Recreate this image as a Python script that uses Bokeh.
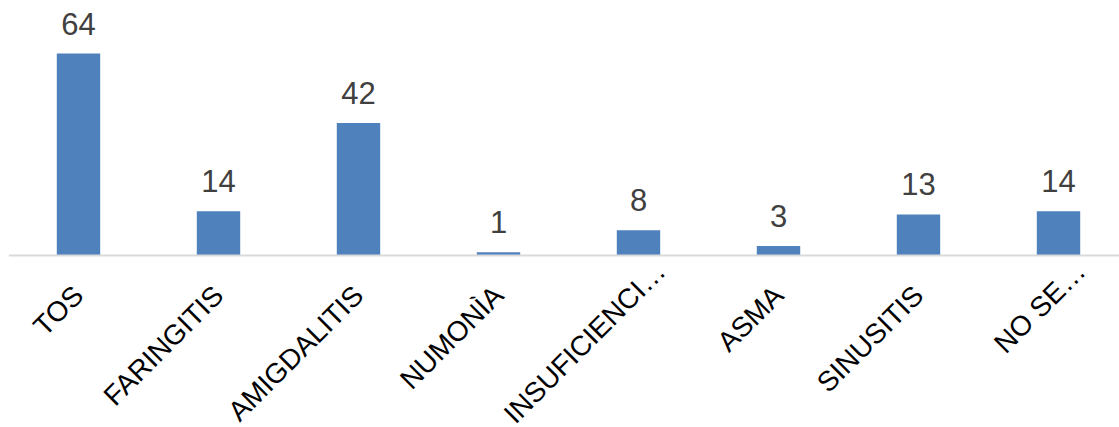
import math
from bokeh.plotting import figure
from bokeh.models import ColumnDataSource, Range1d, Span
from bokeh.core.properties import value
from bokeh.embed import file_html
from bokeh.resources import INLINE

categories = ["TOS", "FARINGITIS", "AMIGDALITIS", "NUMONÌA", "INSUFICIENCI…", "ASMA", "SINUSITIS", "NO SE…"]
counts = [64, 14, 42, 1, 8, 3, 13, 14]

idx = list(range(len(categories)))
# truncated labels (ending with an ellipsis) sit a little further up-right, as in the original
dx = [22 if c.endswith("…") else 0 for c in categories]
dy = [11 if c.endswith("…") else 35 for c in categories]
src = ColumnDataSource(dict(
    x=idx,
    top=counts,
    base=[0] * len(counts),
    cat=categories,
    lab=[str(v) for v in counts],
    dx=dx,
    dy=dy,
))

p = figure(width=1119, height=427, output_backend="svg", toolbar_location=None,
           x_range=Range1d(-0.5, -0.5 + 1111 / 140), y_range=Range1d(-54.5, 80.8),
           min_border_left=8, min_border_right=0, min_border_top=0, min_border_bottom=0)
p.axis.visible = False
p.grid.visible = False
p.outline_line_color = None
p.background_fill_color = "white"
p.border_fill_color = "white"

p.vbar(x="x", top="top", bottom="base", width=0.31, source=src,
       fill_color="#4f81bd", line_color=None)

p.add_layout(Span(location=0, dimension="width", line_color="#d9d9d9", line_width=2))

p.text(x="x", y="top", text="lab", source=src, text_align="center",
       text_baseline="bottom", y_offset=-19,
       text_font=value("Liberation Sans"), text_font_size="31px", text_color="#404040")

p.text(x="x", y="base", text="cat", source=src, angle=math.pi / 4,
       text_align="right", text_baseline="middle", y_offset="dy", x_offset="dx",
       text_font=value("Liberation Sans"), text_font_size="28px", text_color="#000000")

open("out.html", "w").write(file_html(p, INLINE))
